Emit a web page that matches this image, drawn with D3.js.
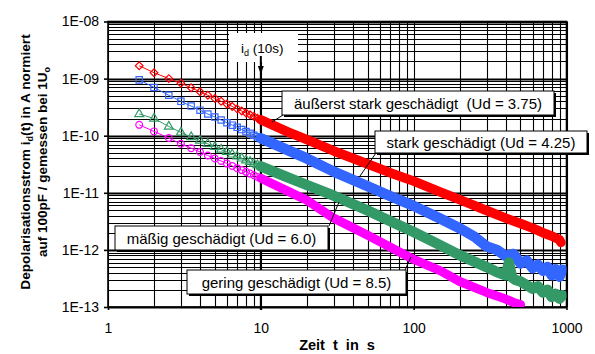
<!DOCTYPE html>
<html><head><meta charset="utf-8">
<script src="https://cdn.jsdelivr.net/npm/d3@7"></script>
<style>
body{margin:0;background:#fff;}
svg{display:block;font-family:"Liberation Sans",Arial,sans-serif;}
</style></head><body>
<svg id="c" width="595" height="354"></svg>
<script>
// ---------- data ----------
const xTickValues = [1, 10, 100, 1000];
const xTickLabels = ["1", "10", "100", "1000"];
const yTickValues = [1e-13, 1e-12, 1e-11, 1e-10, 1e-9, 1e-8];
const yTickLabels = ["1E-13", "1E-12", "1E-11", "1E-10", "1E-09", "1E-08"];

const seriesNames = ["äußerst stark geschädigt  (Ud = 3.75)", "stark geschädigt (Ud = 4.25)",
                     "mäßig geschädigt (Ud = 6.0)", "gering geschädigt (Ud = 8.5)"];

// early (individually visible markers)
const tEarly = [1.6, 2, 2.5, 3, 3.5, 4, 4.5, 5, 5.5, 6, 6.5, 7, 7.5, 8, 8.5, 9, 9.5, 10];
const redEarly = [1.68e-9, 1.27e-9, 1.0e-9, 8.3e-10, 6.9e-10, 5.9e-10, 5.1e-10, 4.5e-10, 4.0e-10, 3.6e-10, 3.25e-10, 2.95e-10, 2.7e-10, 2.5e-10, 2.33e-10, 2.18e-10, 2.03e-10, 1.9e-10];
const blueEarly = [9.5e-10, 7.0e-10, 5.1e-10, 4.0e-10, 3.3e-10, 2.8e-10, 2.4e-10, 2.12e-10, 1.88e-10, 1.69e-10, 1.53e-10, 1.4e-10, 1.28e-10, 1.18e-10, 1.1e-10, 1.02e-10, 9.6e-11, 9.0e-11];
const greenEarly = [2.4e-10, 2.0e-10, 1.45e-10, 1.14e-10, 9.5e-11, 8.2e-11, 7.2e-11, 6.35e-11, 5.7e-11, 5.2e-11, 4.7e-11, 4.35e-11, 4.0e-11, 3.7e-11, 3.5e-11, 3.25e-11, 3.05e-11, 2.9e-11];
const magentaEarly = [1.55e-10, 1.19e-10, 9.1e-11, 7.2e-11, 6.05e-11, 5.2e-11, 4.5e-11, 4.0e-11, 3.6e-11, 3.25e-11, 2.95e-11, 2.7e-11, 2.5e-11, 2.33e-11, 2.17e-11, 2.03e-11, 1.9e-11, 1.8e-11];

// dense part (markers merge into a band)
const redTailT = [10, 15, 20, 30, 50, 70, 100, 150, 200, 300, 400, 500, 600, 700, 800, 900, 920];
const redTail = [1.9e-10, 1.17e-10, 8.5e-11, 5.4e-11, 3.2e-11, 2.25e-11, 1.6e-11, 1.03e-11, 7.6e-12, 4.9e-12, 3.6e-12, 2.9e-12, 2.4e-12, 2.0e-12, 1.75e-12, 1.5e-12, 1.35e-12];
const blueTailT = [10, 15, 20, 30, 50, 70, 100, 150, 200, 250, 300, 350, 400, 450, 500, 550, 600, 650, 700, 750, 800, 850, 900, 940];
const blueTail = [9.0e-11, 5.6e-11, 4.0e-11, 2.35e-11, 1.3e-11, 8.8e-12, 5.9e-12, 3.5e-12, 2.4e-12, 1.7e-12, 1.15e-12, 1.0e-12, 7.8e-13, 8.5e-13, 5.8e-13, 6.5e-13, 4.8e-13, 5.5e-13, 4.3e-13, 5.0e-13, 3.6e-13, 4.6e-13, 3.4e-13, 4.5e-13];
const greenTailT = [10, 15, 20, 30, 50, 70, 100, 150, 200, 250, 300, 350, 400, 420, 440, 460, 500, 550, 600, 650, 700, 750, 800, 850, 900, 940];
const greenTail = [2.9e-11, 1.87e-11, 1.37e-11, 8.9e-12, 4.9e-12, 3.2e-12, 2.05e-12, 1.2e-12, 8.1e-13, 6.2e-13, 5.0e-13, 4.1e-13, 3.6e-13, 6.0e-13, 3.3e-13, 3.0e-13, 2.8e-13, 2.4e-13, 2.1e-13, 2.3e-13, 1.8e-13, 2.0e-13, 1.5e-13, 1.7e-13, 1.4e-13, 1.6e-13];
const magentaTailT = [10, 15, 20, 30, 50, 70, 100, 150, 200, 300, 400, 450, 500];
const magentaTail = [1.8e-11, 1.07e-11, 7.4e-12, 3.6e-12, 1.8e-12, 1.12e-12, 6.8e-13, 4.3e-13, 2.8e-13, 1.8e-13, 1.38e-13, 1.2e-13, 1.1e-13];

// ---------- layout ----------
const L = 108, R = 566.5, T = 21.5, B = 307;
const svg = d3.select("#c");
const x = d3.scaleLog().domain([1, 1000]).range([L, R]);
const y = d3.scaleLog().domain([1e-13, 1e-8]).range([B, T]);
const xr = x.copy().interpolate(d3.interpolateRound);
const yr = y.copy().interpolate(d3.interpolateRound);

// grid
const gx = svg.append("g").attr("transform", `translate(0,${Math.round(B)})`)
  .call(d3.axisBottom(xr).tickValues(x.ticks()).tickSize(-(B - T)).tickFormat(""));
gx.select(".domain").remove();
gx.selectAll("line").attr("stroke", "#000").attr("stroke-width", 1.1);
const gy = svg.append("g").attr("transform", `translate(${Math.round(L)},0)`)
  .call(d3.axisLeft(yr).tickValues(y.ticks()).tickSize(-(R - L)).tickFormat(""));
gy.select(".domain").remove();
gy.selectAll("line").attr("stroke", "#000")
  .attr("stroke-width", d => Math.abs(Math.log10(d) - Math.round(Math.log10(d))) < 1e-6 ? 1.8 : 1.1);

// frame
svg.append("rect").attr("x", L).attr("y", T).attr("width", R - L).attr("height", B - T)
  .attr("fill", "none").attr("stroke", "#000").attr("stroke-width", 1.6);

// axes with labels
const ay = svg.append("g").attr("transform", `translate(${L},0)`)
  .call(d3.axisLeft(y).tickValues(yTickValues).tickSize(4).tickPadding(5)
    .tickFormat((d, i) => yTickLabels[i]));
ay.select(".domain").remove();
ay.selectAll("line").attr("stroke", "#000").attr("stroke-width", 1.6);
ay.selectAll("text").attr("font-size", 14).attr("fill", "#000")
  .attr("font-family", "Liberation Sans, Arial, sans-serif");

const ax = svg.append("g").attr("transform", `translate(0,${B})`)
  .call(d3.axisBottom(x).tickValues(xTickValues).tickSize(3).tickPadding(13)
    .tickFormat((d, i) => xTickLabels[i]));
ax.select(".domain").remove();
ax.selectAll("line").attr("stroke", "#000").attr("stroke-width", 1.6);
ax.selectAll("text").attr("font-size", 14).attr("fill", "#000")
  .attr("font-family", "Liberation Sans, Arial, sans-serif");

// axis titles
svg.append("text").attr("x", 337).attr("y", 350).attr("text-anchor", "middle")
  .attr("font-size", 14.5).attr("font-weight", "bold").style("white-space", "pre")
  .text("Zeit  t  in  s");

const yt = svg.append("g").attr("transform", "translate(0,162) rotate(-90)");
const t1 = yt.append("text").attr("x", 0).attr("y", 30).attr("text-anchor", "middle")
  .attr("font-size", 13.7).attr("font-weight", "bold");
t1.append("tspan").text("Depolarisationsstrom i");
t1.append("tspan").attr("font-size", 9).attr("dy", 3).text("d");
t1.append("tspan").attr("dy", -3).text("(t) in A normiert");
const t2 = yt.append("text").attr("x", 0).attr("y", 47).attr("text-anchor", "middle")
  .attr("font-size", 13.5).attr("font-weight", "bold");
t2.append("tspan").text("auf 100pF / gemessen bei 1U");
t2.append("tspan").attr("font-size", 9).attr("dy", 3).text("o");

// i_d(10s) annotation
svg.append("rect").attr("x", 229).attr("y", 33).attr("width", 69).attr("height", 29).attr("fill", "#fff");
const ta = svg.append("text").attr("x", 241).attr("y", 53).attr("font-size", 13.5);
ta.append("tspan").text("i");
ta.append("tspan").attr("font-size", 9).attr("dy", 3).text("d");
ta.append("tspan").attr("dy", -3).text(" (10s)");
svg.append("line").attr("x1", x(10)).attr("x2", x(10)).attr("y1", 56).attr("y2", B + 3)
  .attr("stroke", "#000").attr("stroke-width", 2);
svg.append("path").attr("d", `M${x(10) - 3},${66} L${x(10) + 3},${66} L${x(10)},${74} Z`).attr("fill", "#000");

// ---------- series ----------
svg.append("clipPath").attr("id", "clip").append("rect")
  .attr("x", L).attr("y", T).attr("width", R - L).attr("height", B - T);

const series = [
  {name: seriesNames[0], color: "#ff0000", early: redEarly, tailT: redTailT, tail: redTail, sym: "diamond", band: 9.5},
  {name: seriesNames[1], color: "#3366ff", early: blueEarly, tailT: blueTailT, tail: blueTail, sym: "square", band: 10.5},
  {name: seriesNames[2], color: "#339966", early: greenEarly, tailT: greenTailT, tail: greenTail, sym: "triangle", band: 10.5},
  {name: seriesNames[3], color: "#ff00ff", early: magentaEarly, tailT: magentaTailT, tail: magentaTail, sym: "circle", band: 9}
];
const symTypes = {diamond: d3.symbolSquare, square: d3.symbolSquare, triangle: d3.symbolTriangle, circle: d3.symbolCircle};
const symSizes = {diamond: 30, square: 40, triangle: 34, circle: 36};
const line = d3.line().x(d => x(d[0])).y(d => y(d[1]));

const sg = svg.append("g").attr("clip-path", "url(#clip)");
series.forEach(s => {
  const early = tEarly.map((t, i) => [t, s.early[i]]);
  const tail = s.tailT.map((t, i) => [t, s.tail[i]]);
  sg.append("path").attr("d", line(early)).attr("fill", "none").attr("stroke", s.color).attr("stroke-width", 1);
  sg.append("g").selectAll("path").data(early).join("path")
    .attr("transform", d => `translate(${x(d[0])},${y(d[1])})` + (s.sym === "diamond" ? " rotate(45)" : ""))
    .attr("d", d3.symbol().type(symTypes[s.sym]).size(symSizes[s.sym]))
    .attr("fill", "none").attr("stroke", s.color).attr("stroke-width", 1.2);
  sg.append("path").attr("d", line(tail)).attr("fill", "none").attr("stroke", s.color)
    .attr("stroke-width", s.band).attr("stroke-linejoin", "round").attr("stroke-linecap", "round");
});

// ---------- label boxes ----------
const boxes = [
  {i: 0, x: 282, y: 91, w: 272, h: 24, lead: [283, 115, 272, 122]},
  {i: 1, x: 375, y: 131, w: 212, h: 22, lead: [376, 153, 360, 176]},
  {i: 2, x: 115, y: 226, w: 213, h: 24, lead: [329, 226, 339, 202]},
  {i: 3, x: 187, y: 270, w: 219, h: 24, lead: [405, 270, 411, 257]}
];
boxes.forEach(b => {
  svg.append("line").attr("x1", b.lead[0]).attr("y1", b.lead[1]).attr("x2", b.lead[2]).attr("y2", b.lead[3])
    .attr("stroke", "#000").attr("stroke-width", 1);
  svg.append("rect").attr("x", b.x + 2).attr("y", b.y + 2).attr("width", b.w).attr("height", b.h).attr("fill", "#000");
  svg.append("rect").attr("x", b.x).attr("y", b.y).attr("width", b.w).attr("height", b.h)
    .attr("fill", "#fff").attr("stroke", "#000").attr("stroke-width", 1);
  svg.append("text").attr("x", b.x + b.w / 2).attr("y", b.y + b.h / 2 + 5.5)
    .attr("text-anchor", "middle").attr("font-size", 15).style("white-space", "pre")
    .text(seriesNames[b.i]);
});
</script>
</body></html>
